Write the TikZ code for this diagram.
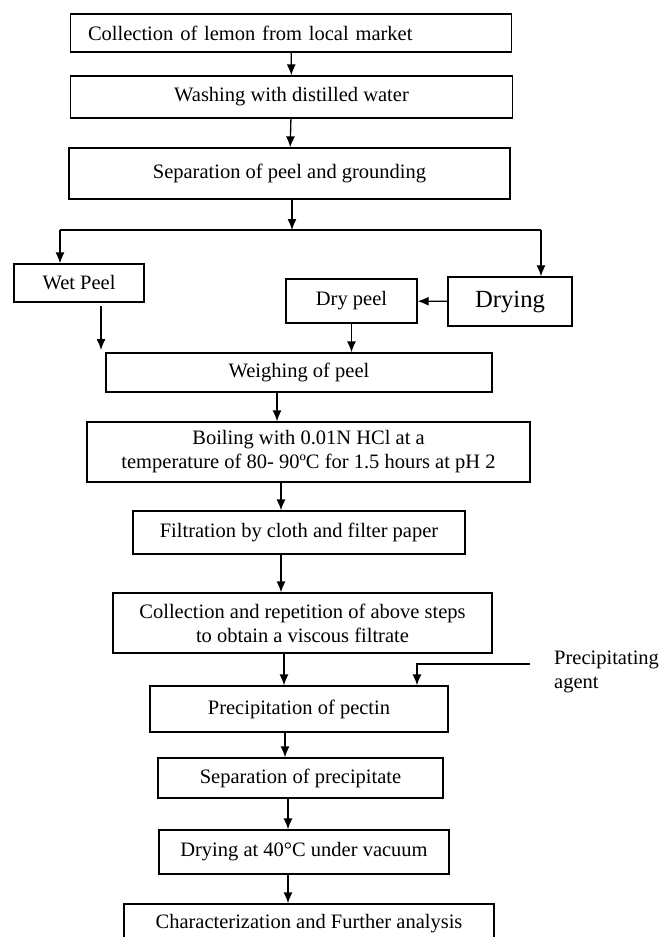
\documentclass[tikz,border=0pt]{standalone}
\usepackage{fontspec}
\setmainfont{Liberation Serif}
\usetikzlibrary{arrows.meta}

\begin{document}
\begin{tikzpicture}[x=1pt,y=-1pt,font=\fontsize{20.5}{24}\selectfont]
    \tikzstyle{stage} = [draw, rectangle, line width=1.3pt, inner sep=0pt, align=center, text centered]
    \tikzstyle{arrow} = [line width=1.3pt,-{Latex[length=11pt,width=9pt]}]
    \tikzstyle{branch} = [line width=1.3pt]
    \useasboundingbox (0,0) rectangle (659,937);

    \node (collect) [stage, minimum width=441pt, minimum height=38pt, text width=406pt, align=left] at (291,33) {Collection of lemon from local market};
    \node (wash) [stage, minimum width=442pt, minimum height=42pt] at (291.5,97) {Washing with distilled water};
    \node (separate) [stage, minimum width=441pt, minimum height=51pt] at (289.5,173.5) {Separation of peel and grounding};
    \node (wet) [stage, minimum width=130pt, minimum height=38pt] at (79,283) {Wet Peel};
    \node (drying) [stage, minimum width=124pt, minimum height=49pt, font=\fontsize{24.7}{28}\selectfont] at (510,301.5) {Drying};
    \node (dry) [stage, minimum width=131pt, minimum height=44pt] at (351.5,301) {Dry peel};
    \node (weigh) [stage, minimum width=386pt, minimum height=39pt] at (299,372.5) {Weighing of peel};
    \node (boil) [stage, minimum width=443pt, minimum height=60pt] at (308.5,452) {Boiling with 0.01N HCl at a\\temperature of 80- 90ºC for 1.5 hours at pH 2};
    \node (filter) [stage, minimum width=332pt, minimum height=43pt] at (299,532.5) {Filtration by cloth and filter paper};
    \node (repeat) [stage, minimum width=379pt, minimum height=60pt] at (302.5,623) {Collection and repetition of above steps\\to obtain a viscous filtrate};
    \node (pectin) [stage, minimum width=298pt, minimum height=46pt] at (299,709) {Precipitation of pectin};
    \node (agent) [align=left, anchor=west, inner sep=0pt] at (554,672) {Precipitating\\agent};
    \node (separate2) [stage, minimum width=285pt, minimum height=40pt] at (300.5,778) {Separation of precipitate};
    \node (dry40) [stage, minimum width=290pt, minimum height=44pt] at (304,852) {Drying at 40°C under vacuum};
    \node (analysis) [stage, minimum width=370pt, minimum height=40pt] at (309,924) {Characterization and Further analysis};

    \coordinate (splitL) at (60,230);
    \coordinate (splitR) at (541,230);
    \coordinate (wetend) at (101,350);
    \coordinate (agentin) at (530,664);

    \draw [arrow] (collect) -- (wash);
    \draw [arrow] (wash) -- (separate);
    \draw [arrow] ([xshift=2.5pt]separate.south) -- ([xshift=2.5pt]separate.south |- splitL);
    \draw [branch] (splitL) -- (splitR);
    \draw [arrow] (splitL) -- (splitL |- wet.north);
    \draw [arrow] (splitR) -- (splitR |- drying.north);
    \draw [arrow] (drying) -- (dry);
    \draw [arrow] ([yshift=-3pt]wet.south -| wetend) -- (wetend);
    \draw [arrow] (dry) -- (dry |- weigh.north);
    \draw [arrow] ([xshift=-22pt]weigh.south) -- ([xshift=-22pt]weigh.south |- boil.north);
    \draw [arrow] ([xshift=-27.5pt]boil.south) -- ([xshift=-27.5pt]boil.south |- filter.north);
    \draw [arrow] ([xshift=-18pt]filter.south) -- ([xshift=-18pt]filter.south |- repeat.north);
    \draw [arrow] ([xshift=-18.5pt]repeat.south) -- ([xshift=-18.5pt]repeat.south |- pectin.north);
    \draw [arrow] (agentin) -| ([xshift=118pt]pectin.north);
    \draw [arrow] ([xshift=-14pt]pectin.south) -- ([xshift=-14pt]pectin.south |- separate2.north);
    \draw [arrow] ([xshift=-12.5pt]separate2.south) -- ([xshift=-12.5pt]separate2.south |- dry40.north);
    \draw [arrow] ([xshift=-16pt]dry40.south) -- ([xshift=-16pt]dry40.south |- analysis.north);
\end{tikzpicture}
\end{document}
